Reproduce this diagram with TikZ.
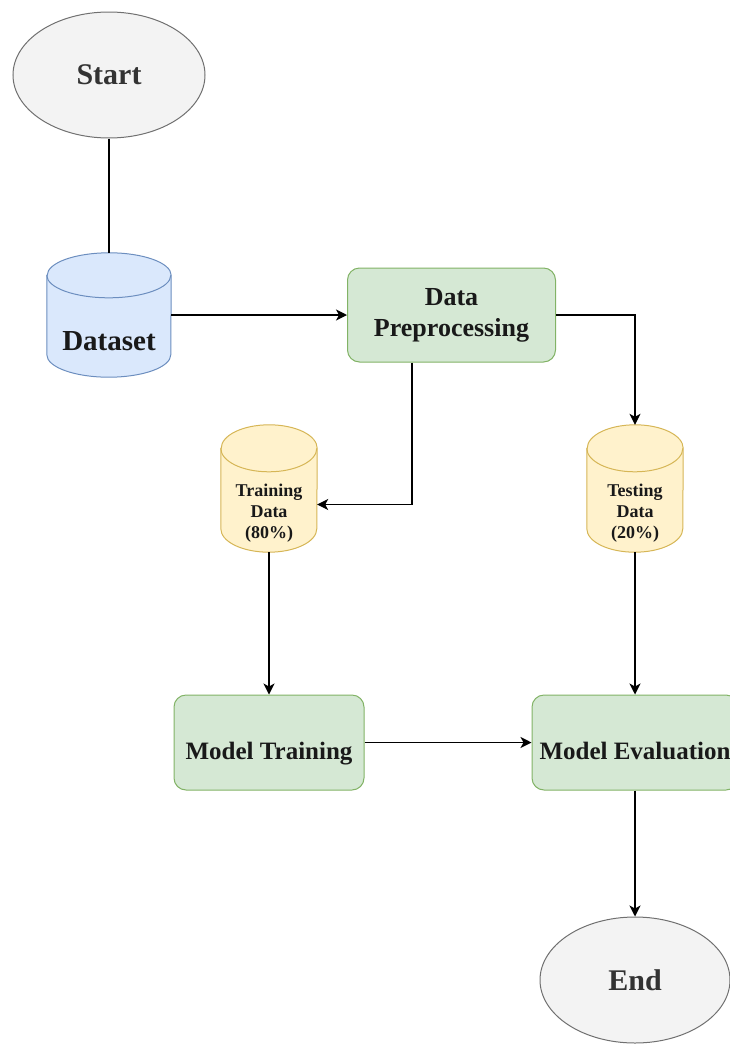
\documentclass[tikz,border=0pt]{standalone}
\usepackage{fontspec}
\setmainfont{Liberation Serif}
\usetikzlibrary{shapes.geometric,arrows.meta,positioning}

\definecolor{termfill}{HTML}{F3F3F3}
\definecolor{termline}{HTML}{707070}
\definecolor{dbfill}{HTML}{DAE8FC}
\definecolor{dbline}{HTML}{6C8EBF}
\definecolor{stepfill}{HTML}{D5E8D4}
\definecolor{stepline}{HTML}{82B366}
\definecolor{splitfill}{HTML}{FFF2CC}
\definecolor{splitline}{HTML}{D6B656}

\pgfdeclarelayer{background}
\pgfsetlayers{background,main}

% cylinder behind a store node: name, x radius, y radius, colour
\newcommand\drawdb[4]{%
  \begin{pgfonlayer}{background}
  \path[draw=#4line, fill=#4fill, line width=1pt]
    ([yshift=-#3]#1.north west) -- ([yshift=#3]#1.south west)
    arc[start angle=180, end angle=360, x radius=#2, y radius=#3]
    -- ([yshift=-#3]#1.north east)
    arc[start angle=0, end angle=180, x radius=#2, y radius=#3] -- cycle;
  \draw[#4line, line width=1pt] ([yshift=-#3]#1.north west)
    arc[start angle=180, end angle=360, x radius=#2, y radius=#3];
  \end{pgfonlayer}}

\tikzset{
  terminal/.style={ellipse, draw=termline, fill=termfill, line width=1pt,
    minimum width=192pt, minimum height=126pt, inner sep=0pt,
    text=black!80, font=\fontsize{30}{34}\selectfont\bfseries},
  process/.style={rectangle, rounded corners=12pt, draw=stepline, fill=stepfill,
    line width=1pt, inner sep=0pt, align=center, text=black!90,
    font=\fontsize{25}{31}\selectfont\bfseries},
  lowtext/.style={text height=34pt, text depth=0pt},
  store/.style={rectangle, inner sep=0pt},
  flow/.style={-{Stealth[length=11pt,width=11pt,inset=3pt]}, line width=1.2pt},
}

\begin{document}
\begin{tikzpicture}[x=1pt,y=-1pt]
\useasboundingbox (0,0) rectangle (730,1044);
\clip (0,0) rectangle (730,1044);

% start / end
\node[terminal] (start) at (109,75) {Start};
\node[terminal, minimum width=190pt] (end) at (635,980) {End};

% data stores
\node[store, minimum width=124pt, minimum height=124pt,
  label={[yshift=-26pt, text=black!90, font=\fontsize{29}{34}\selectfont\bfseries]center:Dataset}]
  (dataset) at (109,315) {};
\drawdb{dataset}{62pt}{22.5pt}{db}
\node[store, minimum width=96pt, minimum height=127pt,
  label={[yshift=-25pt, align=center, text=black!90, font=\fontsize{18}{21}\selectfont\bfseries]center:Training\\Data\\(80\%)}]
  (traindata) at (269,488.5) {};
\drawdb{traindata}{48pt}{23.5pt}{split}
\node[store, minimum width=96pt, minimum height=127pt,
  label={[yshift=-25pt, align=center, text=black!90, font=\fontsize{18}{21}\selectfont\bfseries]center:Testing\\Data\\(20\%)}]
  (testdata) at (635,488.5) {};
\drawdb{testdata}{48pt}{23.5pt}{split}

% steps
\node[process, minimum width=208pt, minimum height=94pt, font=\fontsize{26}{31}\selectfont\bfseries]
  (prep) at (451.5,315) {Data\\Preprocessing};
\node[process, lowtext, minimum width=190pt, minimum height=95pt] (train) at (269,742.5) {Model Training};
\node[process, lowtext, minimum width=206pt, minimum height=95pt] (eval) at (635,742.5) {Model Evaluation};

% connectors
\draw[line width=1.2pt] (start) -- (dataset);
\draw[flow] (dataset) -- (prep);
\draw[flow] (prep.east) -| (testdata);
\draw[flow] ([xshift=-39.5pt]prep.south) |- ([yshift=-16pt]traindata.east);
\draw[flow] (traindata) -- (train);
\draw[flow] (testdata) -- (eval);
\draw[flow] (train) -- (eval);
\draw[flow] (eval) -- (end);
\end{tikzpicture}
\end{document}
